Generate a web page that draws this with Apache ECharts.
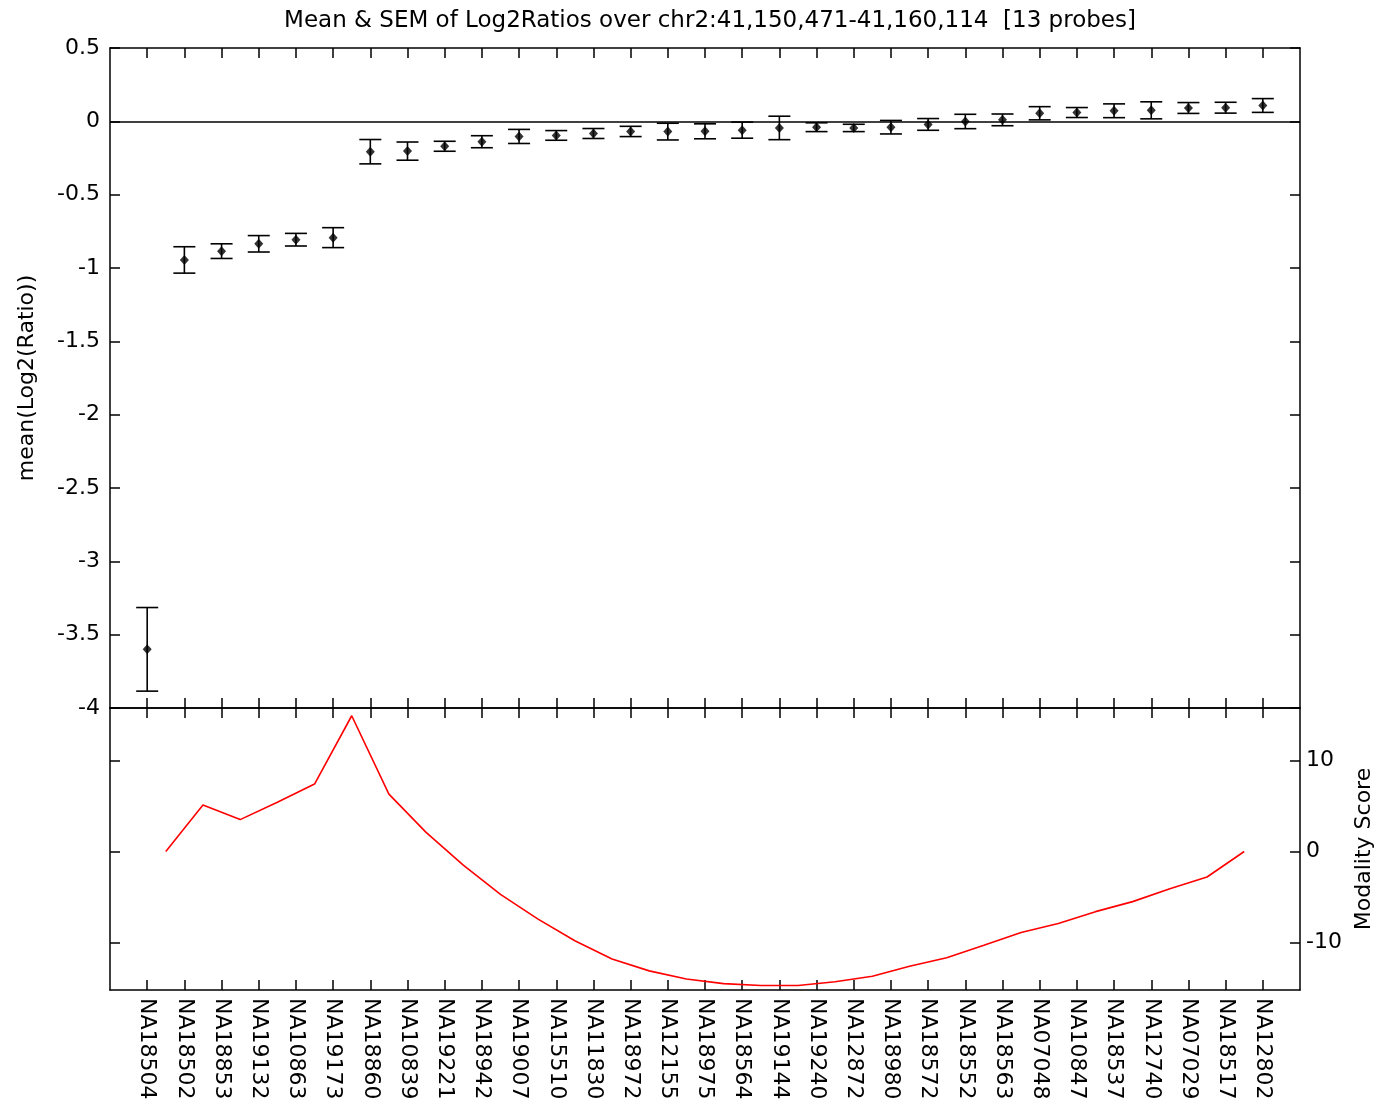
<!DOCTYPE html>
<html>
<head>
<meta charset="utf-8">
<script src="https://cdn.jsdelivr.net/npm/echarts@6/dist/echarts.min.js"></script>
<style>
html,body{margin:0;padding:0;background:#fff;}
#chart{width:1380px;height:1105px;}
</style>
</head>
<body>
<div id="chart"></div>
<script>
const categories = ['NA18504','NA18502','NA18853','NA19132','NA10863','NA19173','NA18860','NA10839','NA19221','NA18942','NA19007','NA15510','NA11830','NA18972','NA12155','NA18975','NA18564','NA19144','NA19240','NA12872','NA18980','NA18572','NA18552','NA18563','NA07048','NA10847','NA18537','NA12740','NA07029','NA18517','NA12802'];
const means = [-3.60,-0.945,-0.885,-0.835,-0.807,-0.793,-0.207,-0.203,-0.170,-0.139,-0.103,-0.096,-0.083,-0.069,-0.070,-0.068,-0.060,-0.045,-0.040,-0.045,-0.040,-0.021,-0.001,0.010,0.055,0.060,0.072,0.075,0.091,0.093,0.108];
const sems = [0.285,0.090,0.050,0.056,0.043,0.068,0.083,0.062,0.034,0.041,0.048,0.033,0.034,0.035,0.057,0.051,0.055,0.080,0.030,0.025,0.046,0.040,0.049,0.040,0.045,0.034,0.047,0.058,0.037,0.037,0.047];
const modality = [0,5.1,3.5,5.4,7.4,14.9,6.3,2.1,-1.5,-4.7,-7.4,-9.8,-11.8,-13.1,-14.0,-14.5,-14.7,-14.7,-14.3,-13.7,-12.6,-11.65,-10.3,-8.9,-7.9,-6.6,-5.5,-4.1,-2.8,0];
const topYTicks = [-4,-3.5,-3,-2.5,-2,-1.5,-1,-0.5,0,0.5];
const modTicks = [-10,0,10];
const titleText = 'Mean & SEM of Log2Ratios over chr2:41,150,471-41,160,114  [13 probes]';

const FONT = 'DejaVu Sans, Liberation Sans, Arial, sans-serif';
const FS = 22;
const catPos = categories.map((c,i)=>i+1);
const scatterData = means.map((m,i)=>[i+1,m]);
const errData = means.map((m,i)=>[i+1,m-sems[i],m+sems[i]]);
const modData = modality.map((v,i)=>[i+1.5,v]);

const axLine = {show:true, onZero:false, lineStyle:{color:'#000', width:1.5}};
const tickStyle = {color:'#000', width:1.5};
function xAx(grid, pos, labels){
  return {
    type:'value', gridIndex:grid, position:pos, min:0, max:32,
    axisLine:axLine,
    splitLine:{show:false},
    axisTick:{show:true, inside:true, length:10, customValues:catPos, lineStyle:tickStyle},
    axisLabel: labels ? {show:true, customValues:catPos, rotate:-90, margin:8, color:'#000',
      fontFamily:FONT, fontSize:FS, align:'left', verticalAlign:'middle',
      formatter:v=>categories[Math.round(v)-1]||''} : {show:false}
  };
}

const chart = echarts.init(document.getElementById('chart'));
chart.setOption({
  animation:false,
  backgroundColor:'#fff',
  title:{text:titleText, left:705, top:5, textAlign:'center',
    textStyle:{fontFamily:FONT, fontSize:23, fontWeight:'normal', color:'#000'}},
  grid:[
    {left:110, top:48, width:1190, height:660, containLabel:false, outerBoundsMode:'none'},
    {left:110, top:708, width:1190, height:282, containLabel:false, outerBoundsMode:'none'}
  ],
  xAxis:[
    xAx(0,'bottom',false), xAx(0,'top',false),
    xAx(1,'bottom',true), xAx(1,'top',false)
  ],
  yAxis:[
    {type:'value', gridIndex:0, position:'left', min:-4, max:0.5, interval:0.5,
      axisLine:axLine, splitLine:{show:false},
      axisTick:{show:true, inside:true, length:10, lineStyle:tickStyle},
      axisLabel:{color:'#000', fontFamily:FONT, fontSize:FS, margin:10,
        formatter:v=>String(Math.round(v*10)/10)},
      name:'mean(Log2(Ratio))', nameLocation:'middle', nameGap:72, nameRotate:90,
      nameTextStyle:{color:'#000', fontFamily:FONT, fontSize:FS}},
    {type:'value', gridIndex:0, position:'right', min:-4, max:0.5, interval:0.5,
      axisLine:axLine, splitLine:{show:false},
      axisTick:{show:true, inside:true, length:10, lineStyle:tickStyle},
      axisLabel:{show:false}},
    {type:'value', gridIndex:1, position:'left', min:-15.2, max:15.75,
      axisLine:axLine, splitLine:{show:false},
      axisTick:{show:true, inside:true, length:10, customValues:modTicks, lineStyle:tickStyle},
      axisLabel:{show:false}},
    {type:'value', gridIndex:1, position:'right', min:-15.2, max:15.75,
      axisLine:axLine, splitLine:{show:false},
      axisTick:{show:true, inside:true, length:10, customValues:modTicks, lineStyle:tickStyle},
      axisLabel:{show:true, customValues:modTicks, color:'#000', fontFamily:FONT, fontSize:FS, margin:6},
      name:'Modality Score', nameLocation:'middle', nameGap:52, nameRotate:90,
      nameTextStyle:{color:'#000', fontFamily:FONT, fontSize:FS}}
  ],
  series:[
    {type:'custom', xAxisIndex:0, yAxisIndex:0, data:errData, z:3,
      renderItem:function(params, api){
        const x = api.value(0);
        const lo = api.coord([x, api.value(1)]);
        const hi = api.coord([x, api.value(2)]);
        const w = 11;
        const st = {stroke:'#000', lineWidth:1.6};
        return {type:'group', children:[
          {type:'line', shape:{x1:lo[0],y1:lo[1],x2:hi[0],y2:hi[1]}, style:st},
          {type:'line', shape:{x1:lo[0]-w,y1:lo[1],x2:lo[0]+w,y2:lo[1]}, style:st},
          {type:'line', shape:{x1:hi[0]-w,y1:hi[1],x2:hi[0]+w,y2:hi[1]}, style:st}
        ]};
      }},
    {type:'scatter', xAxisIndex:0, yAxisIndex:0, data:scatterData, symbol:'diamond', symbolSize:[9,10],
      itemStyle:{color:'#000'}, z:4,
      markLine:{silent:true, symbol:['none','none'], label:{show:false},
        lineStyle:{color:'#000', width:1.5, type:'solid'}, data:[{yAxis:0}]}},
    {type:'line', xAxisIndex:2, yAxisIndex:2, data:modData, showSymbol:false,
      lineStyle:{color:'#ff0000', width:1.6}, itemStyle:{color:'#ff0000'}}
  ]
});
</script>
</body>
</html>
